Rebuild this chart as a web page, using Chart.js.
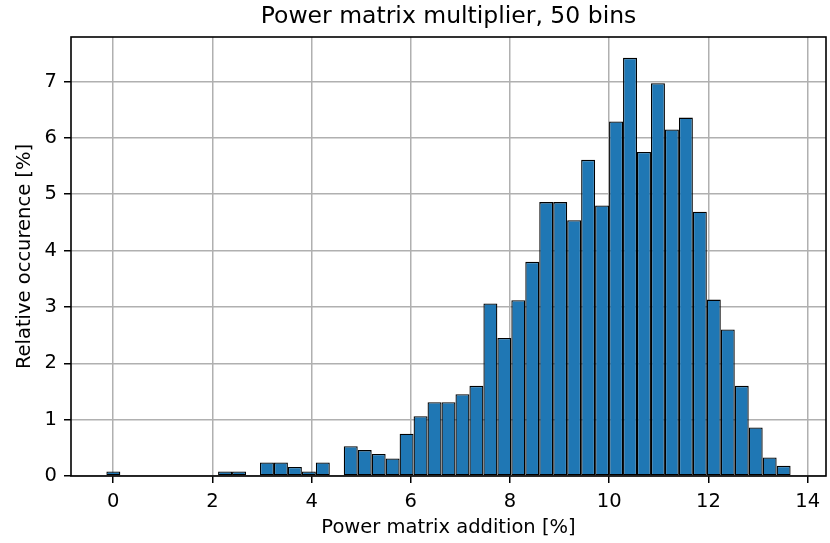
<!DOCTYPE html>
<html>
<head>
<meta charset="utf-8">
<script src="https://cdn.jsdelivr.net/npm/chart.js@4"></script>
<style>
  html, body { margin: 0; padding: 0; background: #fff; }
  #wrap { width: 830px; height: 543px; }
</style>
</head>
<body>
<div id="wrap"><canvas id="myChart"></canvas></div>
<script>
// histogram: lower edge of the first bin and bin width, in %
const binStart = -0.137;
const binWidth = 0.2815;

// relative occurence per bin [%]
const occurence = [
  0.08, 0, 0, 0, 0, 0, 0, 0, 0.08, 0.08,
  0, 0.24, 0.24, 0.16, 0.08, 0.24, 0, 0.53, 0.46, 0.39,
  0.31, 0.75, 1.06, 1.31, 1.31, 1.45, 1.60, 3.06, 2.45, 3.12,
  3.80, 4.86, 4.86, 4.54, 5.61, 4.80, 6.29, 7.42, 5.75, 6.97,
  6.15, 6.36, 4.69, 3.13, 2.60, 1.60, 0.86, 0.33, 0.18,
];

const xTicks = [0, 2, 4, 6, 8, 10, 12, 14];
const yTicks = [0, 1, 2, 3, 4, 5, 6, 7];

const FONT = "DejaVu Sans";

const bars = occurence
  .map((v, i) => ({ x: binStart + (i + 0.5) * binWidth, y: v }))
  .filter((p) => p.y > 0);

// axes box drawn on top, like the matplotlib spines
const frame = {
  id: "frame",
  afterDraw(chart) {
    const { ctx, chartArea: a } = chart;
    ctx.save();
    ctx.strokeStyle = "#000";
    ctx.lineWidth = 1.6;
    ctx.strokeRect(a.left, a.top, a.right - a.left, a.bottom - a.top);
    ctx.restore();
  },
};

const gridOpts = {
  color: "#b0b0b0",
  lineWidth: 1.5,
  tickLength: 7,
  tickColor: "#000",
  offset: false,
};

new Chart(document.getElementById("myChart"), {
  type: "bar",
  data: {
    datasets: [
      {
        data: bars,
        backgroundColor: "#1f77b4",
        borderColor: "#000",
        borderWidth: 1.3,
        borderSkipped: false,
        inflateAmount: 0,
        barPercentage: 1,
        categoryPercentage: 1,
      },
    ],
  },
  options: {
    responsive: true,
    maintainAspectRatio: false,
    animation: false,
    layout: { padding: { left: 0, right: 4, top: 0, bottom: 0 } },
    plugins: {
      legend: { display: false },
      tooltip: { enabled: false },
      title: {
        display: true,
        text: "Power matrix multiplier, 50 bins",
        fullSize: false,
        color: "#000",
        font: { family: FONT, size: 23.5, weight: "normal" },
        padding: { top: 3, bottom: 5.8 },
      },
    },
    scales: {
      x: {
        type: "linear",
        min: -0.85,
        max: 14.37,
        offset: false,
        z: 1,
        grid: gridOpts,
        border: { display: false },
        ticks: {
          color: "#000",
          font: { family: FONT, size: 19.5 },
          padding: 7,
          maxRotation: 0,
          autoSkip: false,
        },
        title: {
          display: true,
          text: "Power matrix addition [%]",
          color: "#000",
          font: { family: FONT, size: 19.5 },
          padding: { top: 0, bottom: 3 },
        },
        afterBuildTicks(scale) {
          scale.ticks = xTicks.map((v) => ({ value: v }));
        },
        afterFit(scale) {
          scale.height = 67;
        },
      },
      y: {
        min: 0,
        max: 7.79,
        z: 1,
        grid: gridOpts,
        border: { display: false },
        ticks: {
          color: "#000",
          font: { family: FONT, size: 19.5 },
          padding: 7,
        },
        title: {
          display: true,
          text: "Relative occurence [%]",
          color: "#000",
          font: { family: FONT, size: 19.5 },
          padding: { top: 13, bottom: 0 },
        },
        afterBuildTicks(scale) {
          scale.ticks = yTicks.map((v) => ({ value: v }));
        },
        afterFit(scale) {
          scale.width = 71;
        },
      },
    },
  },
  plugins: [frame],
});
</script>
</body>
</html>
